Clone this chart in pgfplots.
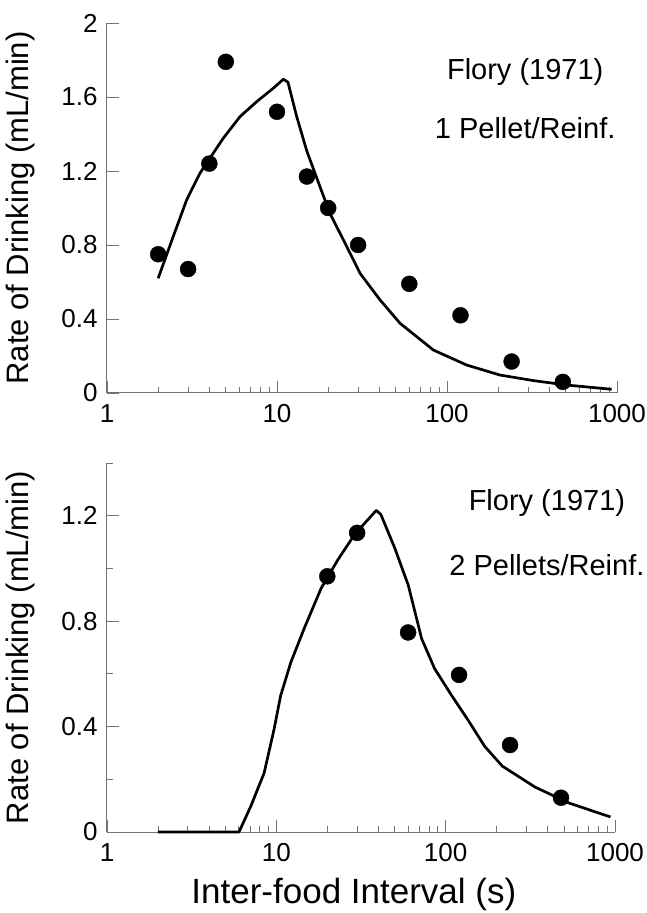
\documentclass[border=0pt]{standalone}
\usepackage{fontspec}
\setmainfont{Liberation Sans}
\usepackage{pgfplots}
\pgfplotsset{compat=1.18}

\begin{document}
\begin{tikzpicture}
\useasboundingbox (0,0) rectangle (646pt,913pt);

% 1 pellet per reinforcer
\begin{axis}[
  at={(107pt,520pt)}, anchor=south west,
  xmode=log, scale only axis, width=510pt, height=370pt,
  xmin=1, xmax=1000, ymin=0, ymax=2,
  axis lines=left,
  axis line style={-, draw=black!55, line width=1pt},
  tick align=inside, major tick length=12pt, minor tick length=6pt,
  tick style={draw=black!55, line width=0.9pt},
  xtick={1,10,100,1000}, xticklabels={1,10,100,1000},
  ytick={0,0.4,0.8,1.2,1.6,2}, yticklabels={0,0.4,0.8,1.2,1.6,2},
  tick label style={font=\fontsize{26}{30}\selectfont},
  xticklabel style={yshift=-8pt},
  yticklabel style={xshift=-6pt},
  label style={font=\fontsize{31}{36}\selectfont},
  ylabel={Rate of Drinking (mL/min)},
  ylabel style={at={(axis description cs:-0.17,0.5)}, anchor=center},
  clip=false,
]
\addplot[black, line width=2.7pt, no markers, line join=round] coordinates {
  (2.0,0.62)(2.45,0.845)(2.94,1.043)(3.52,1.188)(4.04,1.27)(4.83,1.377)
  (6.06,1.494)(7.6,1.575)(9.5,1.647)(10.9,1.696)(11.6,1.68)(13.06,1.494)
  (14.95,1.31)(17.9,1.115)(20.5,0.97)(24.5,0.83)(30.8,0.647)(40.4,0.503)
  (52.9,0.377)(83.2,0.232)(130.6,0.151)(205,0.097)(322,0.067)(506,0.043)
  (930,0.02)
};
\addplot[only marks, mark=*, mark size=8pt, black] coordinates {
  (2,0.75)(3,0.67)(4,1.24)(5,1.79)(10,1.52)(15,1.17)(20,1.00)
  (30,0.80)(60,0.59)(120,0.42)(240,0.17)(480,0.06)
};
\node[font=\fontsize{29}{34}\selectfont] at (axis description cs:0.82,0.868) {Flory (1971)};
\node[font=\fontsize{29}{34}\selectfont] at (axis description cs:0.82,0.716) {1 Pellet/Reinf.};
\end{axis}

% 2 pellets per reinforcer
\begin{axis}[
  at={(107pt,81pt)}, anchor=south west,
  xmode=log, scale only axis, width=508pt, height=369pt,
  xmin=1, xmax=1000, ymin=0, ymax=1.4,
  axis lines=left,
  axis line style={-, draw=black!55, line width=1pt},
  tick align=inside, major tick length=12pt, minor tick length=6pt,
  tick style={draw=black!55, line width=0.9pt},
  xtick={1,10,100,1000}, xticklabels={1,10,100,1000},
  ytick={0,0.4,0.8,1.2}, yticklabels={0,0.4,0.8,1.2},
  minor ytick={0.2,0.6,1.0,1.4},
  tick label style={font=\fontsize{26}{30}\selectfont},
  xticklabel style={yshift=-8pt},
  yticklabel style={xshift=-6pt},
  ylabel={Rate of Drinking (mL/min)},
  ylabel style={font=\fontsize{31}{36}\selectfont,
    at={(axis description cs:-0.17,0.5)}, anchor=center},
  xlabel={Inter-food Interval (s)},
  xlabel style={font=\fontsize{35}{40}\selectfont,
    at={(axis description cs:0.486,-0.168)}, anchor=center},
  clip=false,
]
\addplot[black, line width=2.7pt, no markers, line join=round] coordinates {
  (2,0)(6.02,0)(7.06,0.097)(8.47,0.224)(9.7,0.39)(10.6,0.517)(12.2,0.645)
  (14.6,0.772)(18.4,0.925)(23.1,1.033)(29,1.129)(38.9,1.22)(41.4,1.205)
  (50,1.078)(60.1,0.937)(72.1,0.734)(86,0.62)(108,0.52)(137,0.42)
  (170,0.325)(216,0.25)(338,0.17)(535,0.11)(940,0.057)
};
\addplot[only marks, mark=*, mark size=8pt, black] coordinates {
  (20,0.97)(30,1.135)(60,0.757)(120,0.596)(240,0.33)(480,0.13)
};
\node[font=\fontsize{29}{34}\selectfont] at (axis description cs:0.866,0.892) {Flory (1971)};
\node[font=\fontsize{29}{34}\selectfont] at (axis description cs:0.866,0.724) {2 Pellets/Reinf.};
\end{axis}
\end{tikzpicture}
\end{document}
